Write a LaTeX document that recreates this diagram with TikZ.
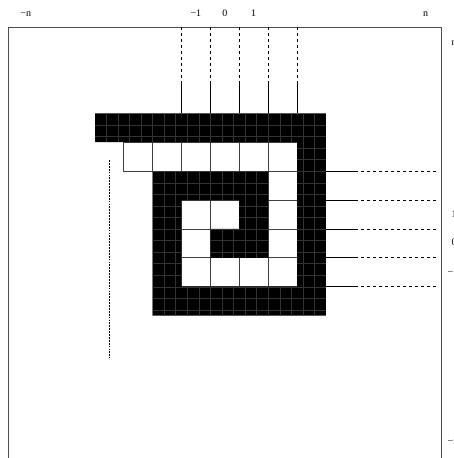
\documentclass[tikz,border=0pt]{standalone}
\usepackage{fontspec}
\setmainfont{Liberation Serif}
\begin{document}
\begin{tikzpicture}[x=1pt,y=-1pt,
  cellline/.style={draw=black!75, line width=0.7pt},
  tex/.style={draw=black!80, line width=0.3pt},
  guide/.style={draw=black, line width=0.7pt},
  guidedash/.style={draw=black, line width=0.7pt, dash pattern=on 3pt off 3pt},
  dotline/.style={draw=black, line width=1.5pt, dash pattern=on 1.8pt off 1.1pt},
  frameline/.style={draw=black!70, line width=0.8pt},
  lab/.style={font=\fontsize{10}{12}\selectfont, inner sep=0pt}]
\useasboundingbox (0,0) rectangle (453,458);
\clip (0,0) rectangle (453,458);
\def\X{94.7}\def\Y{113.3}\def\U{28.9}
% frame
\draw[frameline] (8,470) -- (8,27.3) -- (441,27.3) -- (441,470);
% white cells
\foreach \c/\r in {1/1,2/1,3/1,4/1,5/1,6/1,6/2,3/3,4/3,6/3,3/4,6/4,3/5,4/5,5/5,6/5}
  \draw[cellline] ({\X+\c*\U},{\Y+\r*\U}) rectangle ++(\U,\U);
% black cells with fine texture
\begin{scope}
\clip ({\X},{\Y}) rectangle ++({8*\U},\U)
 ({\X+7*\U},{\Y+\U}) rectangle ++(\U,{5*\U})
 ({\X+2*\U},{\Y+6*\U}) rectangle ++({6*\U},\U)
 ({\X+2*\U},{\Y+2*\U}) rectangle ++(\U,{4*\U})
 ({\X+3*\U},{\Y+2*\U}) rectangle ++({3*\U},\U)
 ({\X+5*\U},{\Y+3*\U}) rectangle ++(\U,{2*\U})
 ({\X+4*\U},{\Y+4*\U}) rectangle ++(\U,\U);
\fill[black] (\X,\Y) rectangle ++({8*\U},{7*\U});
\foreach \i in {1,...,19} \draw[tex] ({\X+\i*\U*0.4},\Y) -- ++(0,{7*\U});
\foreach \j in {1,...,17} \draw[tex] (\X,{\Y+\j*\U*0.4}) -- ++({8*\U},0);
\end{scope}
% top guides
\foreach \c in {3,...,7} {
  \coordinate (ta\c) at ({\X+\c*\U},27.3);
  \coordinate (tb\c) at ({\X+\c*\U},{\Y-\U});
  \coordinate (tc\c) at ({\X+\c*\U},\Y);
  \draw[guidedash] (ta\c) -- (tb\c);
  \draw[guide] (tb\c) -- (tc\c);
}
% right guides
\foreach \r in {2,...,6} {
  \coordinate (ra\r) at ({\X+8*\U},{\Y+\r*\U});
  \coordinate (rb\r) at ({\X+9*\U},{\Y+\r*\U});
  \coordinate (rc\r) at (438.3,{\Y+\r*\U});
  \draw[guide] (ra\r) -- (rb\r);
  \draw[guidedash] (rb\r) -- (rc\r);
}
% left dotted line
\coordinate (la) at (109.3,160);
\coordinate (lb) at (109.3,358);
\draw[dotline] (la) -- (lb);
% top labels
\node[lab, anchor=base] (tmn) at (25.8,16.7) {−n};
\node[lab, anchor=base] (tm1) at ({\X+3.5*\U},16.7) {−1};
\node[lab, anchor=base] (t0) at ({\X+4.5*\U},16.7) {0};
\node[lab, anchor=base] (t1) at ({\X+5.5*\U},16.7) {1};
\node[lab, anchor=base] (tn) at (425.5,16.7) {n};
% right labels (cut by the page edge, as in the reference)
\node[lab, anchor=west] (rn) at (451.5,43) {n};
\node[lab, anchor=west] (r1) at (451.5,{\Y+3.5*\U}) {1};
\node[lab, anchor=west] (r0) at (451.5,{\Y+4.5*\U-1}) {0};
\node[lab, anchor=west] (rm1) at (447.5,272) {−1};
\node[lab, anchor=west] (rmn) at (447.5,442) {−n};
\end{tikzpicture}
\end{document}
